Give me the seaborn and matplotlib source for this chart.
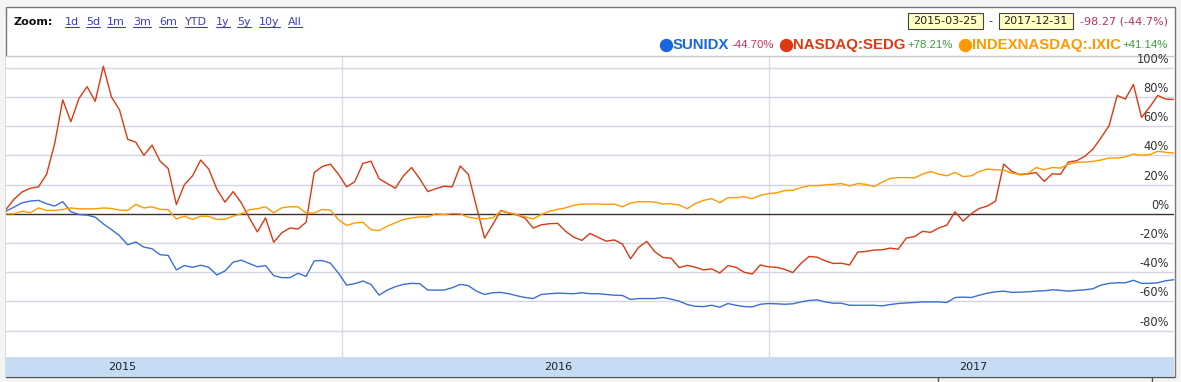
import matplotlib
matplotlib.use("Agg")
import matplotlib.pyplot as plt
import matplotlib.transforms as mtrans
from matplotlib.lines import Line2D
from matplotlib.patches import Rectangle
import numpy as np
import pandas as pd
import seaborn as sns

# weekly % change since start
sunidx = [
    1.8, 4.6, 7.6, 8.7, 9.2, 6.9, 5.3, 8.3, 1.4, -0.5, -0.9, -2.3, -6.9, -10.8, -15, -21.2, -19.3, -22.8, -23.9, -28, -28.5,
    -38.4, -35.4, -36.6, -35.2, -36.6, -41.9, -39.1, -33.1, -31.7, -34, -36.3, -35.4, -42.3, -43.7, -43.7, -40.7, -42.8, -32.2, -32, -33.8,
    -40.7, -48.8, -47.8, -46, -48.3, -55.7, -52.2, -49.9, -48.3, -47.6, -47.8, -52.2, -52.2, -52.2, -50.6, -48.3, -49.2, -52.9, -55.2, -54, -53.8,
    -54.7, -56.1, -57.3, -58, -55.2, -54.7, -54.3, -54.5, -54.7, -54, -54.7, -54.7, -55.2, -55.7, -55.9, -58.6, -58, -58, -58, -57.3, -58.4,
    -59.8, -62.1, -63.3, -63.5, -62.6, -63.9, -61.4, -62.6, -63.5, -63.7, -61.9, -61.4, -61.6, -61.9, -61.6, -60.3, -59.3, -58.9, -60.3, -61.2, -61.2,
    -62.6, -62.6, -62.6, -62.6, -63, -62.1, -61.4, -61, -60.7, -60.3, -60.3, -60.3, -60.7, -57.3, -57, -57.3, -55.7, -54.3, -53.4, -52.9, -53.8,
    -53.6, -53.4, -52.9, -52.7, -52, -52.4, -52.9, -52.4, -52, -51.3, -48.8, -47.6, -47.2, -47.2, -45.5, -47.6, -47.6, -47.2, -45.8, -45.1,
]
sedg = [
    3, 10, 15, 17.5, 18.4, 27, 48, 78, 63, 79, 87, 77, 101, 80, 71, 51, 49, 40, 47, 36, 31,
    6.4, 20, 26, 36.8, 30.6, 16.8, 8, 15.2, 7.6, -2.8, -12.4, -2.8, -19.5, -13, -9.7, -10.4, -5.8, 28.3, 32.4, 34,
    27, 18.4, 22, 34.5, 36, 24, 20.7, 17.5, 26, 31.7, 24, 15.2, 17.2, 18.9, 18.4, 32.7, 27, 5, -16.6, -7.4, 2.3,
    0.5, -0.7, -3, -9.8, -7.5, -6.8, -6.5, -12, -16, -18.2, -13.4, -16.1, -18.7, -17.9, -20.7, -30.8, -22.9, -18.9, -26, -29.9, -30.4,
    -36.8, -35.3, -36.6, -38.4, -37.7, -40.5, -35.5, -36.6, -40, -41.2, -35, -36.3, -36.6, -38, -40.2, -34, -29.2, -29.7, -32.2, -34, -33.8,
    -35, -26.2, -25.8, -24.8, -24.6, -23.5, -24.2, -16.6, -15.6, -12, -12.7, -9.7, -7.8, 1.4, -5, 0, 3.7, 5.3, 8.7, 34, 29,
    26.7, 27.3, 28.2, 22.2, 27.4, 27, 35.5, 36.3, 39.4, 44.2, 52, 60.3, 81, 78.5, 88.5, 66, 73, 81, 78.5, 78.2,
]
ixic = [
    0, 0, 1.8, 0.7, 4, 2.3, 2.3, 3, 4, 3.4, 3.4, 3.4, 4, 3.7, 2.5, 2.3, 6.4, 4, 4.8, 3, 2.8,
    -3.5, -1.6, -3.9, -1.6, -1.8, -3.9, -3.7, -1.6, 0, 2.8, 3.5, 4.8, 0.7, 4.1, 4.8, 4.8, 0.5, 0.5, 3, 2.5,
    -4, -8, -6.2, -5.8, -10.8, -11.5, -8.5, -6.2, -3.9, -2.8, -2.1, -2.1, 0, -0.5, 0.2, 0, -2.3, -3.2, -3.5, -2.8, 1.8,
    0.7, -0.5, -2.1, -3.5, -0.5, 1.8, 3, 4.1, 5.8, 6.7, 6.7, 6.7, 6.4, 6.7, 4.8, 7.4, 8.3, 8.3, 8, 6.7, 6.9,
    6, 3.5, 7.1, 9.2, 10.4, 7.6, 11, 11, 11.7, 10.4, 12.7, 13.8, 14.3, 15.9, 16.1, 17.9, 19.3, 19.3, 19.8, 20.2, 20.7,
    19.1, 20.7, 20.2, 18.6, 21.6, 24.2, 24.8, 24.8, 24.6, 27.1, 29, 27.1, 26, 28.3, 25.5, 26, 29, 30.6, 30.1, 29.9, 27.8,
    27.1, 27.6, 31.7, 30.1, 31.7, 31.3, 34, 35.2, 35.4, 35.9, 36.8, 38.2, 38.2, 38.9, 40.9, 40, 40.5, 42.8, 42.1, 41.6,
]
dates = pd.date_range("2015-03-19", "2017-12-14", periods=len(sedg))

symbols = ["SUNIDX", "NASDAQ:SEDG", "INDEXNASDAQ:.IXIC"]
changes = ["-44.70%", "+78.21%", "+41.14%"]
line_colors = ["#3a70d0", "#dc3912", "#ff9900"]
legend_colors = ["#1a66dd", "#dc3912", "#ff9900"]
change_colors = ["#c4325f", "#3a9d3a", "#3a9d3a"]

y_ticks = [-80, -60, -40, -20, 0, 20, 40, 60, 80, 100]
year_lines = pd.to_datetime(["2016-01-01", "2017-01-01"])
year_names = ["2015", "2016", "2017"]
year_label_at = pd.to_datetime(["2015-06-27", "2016-07-04", "2017-06-25"])

zoom_links = ["1d", "5d", "1m", "3m", "6m", "YTD", "1y", "5y", "10y", "All"]
zoom_link_x = [65, 86, 107, 133, 159, 185, 216, 237, 259, 288]
range_from, range_to = "2015-03-25", "2017-12-31"
range_change = "-98.27 (-44.7%)"

df = pd.DataFrame({
    "date": np.tile(dates, 3),
    "pct": np.concatenate([sunidx, sedg, ixic]),
    "symbol": np.repeat(symbols, len(dates)),
})

sns.set_style("white")
plt.rcParams["font.family"] = "DejaVu Sans"

W, H = 1181, 382


def fx(px):
    return px / W


def fy(py):
    return 1 - py / H


fig = plt.figure(figsize=(W / 100, H / 100), dpi=100, facecolor="#f4f4f4")
fig.patches.append(Rectangle((fx(6), fy(377)), fx(1175) - fx(6), fy(7) - fy(377),
                             transform=fig.transFigure, fc="white", ec="#777777",
                             lw=1, zorder=-5))

ax = fig.add_axes([fx(6), fy(357), fx(1174) - fx(6), fy(56) - fy(357)])
ax.set_facecolor("white")
sns.lineplot(data=df, x="date", y="pct", hue="symbol", hue_order=symbols,
             palette=line_colors, legend=False, linewidth=1.0, ax=ax, zorder=3)
ax.set_xlim(dates[0], dates[-1])
ax.set_ylim(-98, 108)
ax.set_xlabel("")
ax.set_ylabel("")

ax.set_yticks(y_ticks)
ax.set_yticklabels([])
ax.tick_params(axis="y", length=0)
for v in y_ticks:
    if v == 0:
        ax.axhline(0, color="#3c2f2f", lw=1, zorder=2)
    else:
        ax.axhline(v, color="#d5d5e3", lw=1, zorder=1)

lab_tr = mtrans.offset_copy(mtrans.blended_transform_factory(ax.transAxes, ax.transData),
                            fig=fig, y=2, units="dots")
for v in y_ticks:
    ax.text(0.9957, v, f"{v}%", transform=lab_tr, ha="right", va="bottom",
            fontsize=8.3, color="#333333", zorder=6)

ax.set_xticks(year_lines)
ax.set_xticklabels([])
ax.tick_params(axis="x", direction="in", length=5, width=1, color="#333333")
for d in year_lines:
    ax.axvline(d, color="#dcdce8", lw=1, zorder=1)

for side in ["left", "right", "bottom"]:
    ax.spines[side].set_visible(False)
ax.spines["top"].set_color("#c8c8c8")
ax.spines["top"].set_linewidth(1)

# year band
band = fig.add_axes([fx(6), fy(377), fx(1174) - fx(6), fy(357) - fy(377)], sharex=ax)
band.set_facecolor("#c6dcf5")
band.set_yticks([])
band.tick_params(axis="x", length=0, labelbottom=False)
for side in ["left", "right", "top"]:
    band.spines[side].set_visible(False)
band.spines["bottom"].set_color("#555555")
btr = mtrans.blended_transform_factory(band.transData, band.transAxes)
for d, name in zip(year_label_at, year_names):
    band.text(d, 0.5, name, transform=btr, ha="center", va="center",
              fontsize=8, color="#222222")

for px in [938, 1152]:
    fig.add_artist(Line2D([fx(px), fx(px)], [fy(377), fy(382)],
                          transform=fig.transFigure, color="#555555", lw=1))

r = fig.canvas.get_renderer()

# zoom links
fig.text(fx(13), fy(25), "Zoom:", fontsize=8, fontweight="bold", color="#111111",
         ha="left", va="baseline")
for lab, px in zip(zoom_links, zoom_link_x):
    t = fig.text(fx(px), fy(25), lab, fontsize=8, color="#3d3dbb", ha="left", va="baseline")
    bb = t.get_window_extent(renderer=r)
    fig.add_artist(Line2D([bb.x0 / W, bb.x1 / W], [fy(26.5), fy(26.5)],
                          transform=fig.transFigure, color="#3d3dbb", lw=0.8))


def text_right(xr, y, s, **kw):
    t = fig.text(fx(xr), fy(y), s, ha="right", va="center", **kw)
    return t.get_window_extent(renderer=r)


def date_box(xr, y, s):
    bb = text_right(xr - 5, y, s, fontsize=8, color="#222222")
    left = bb.x0 - 5
    fig.patches.append(Rectangle((fx(left), fy(y + 8)), fx(xr) - fx(left), fy(y - 8) - fy(y + 8),
                                 transform=fig.transFigure, fc="#ffffc4", ec="#444444",
                                 lw=0.8, zorder=1))
    return left


# date range row
bb = text_right(1168, 21, range_change, fontsize=8, color="#b5305a")
left = date_box(bb.x0 - 7, 21, range_to)
bb = text_right(left - 6, 21, "-", fontsize=8, color="#222222")
date_box(bb.x0 - 6, 21, range_from)

# legend row
x = 1168
for sym, ch, lc, cc in reversed(list(zip(symbols, changes, legend_colors, change_colors))):
    bb = text_right(x, 45, ch, fontsize=8.2, color=cc, family="Liberation Sans")
    bb = text_right(bb.x0 - 2, 45, sym, fontsize=10.8, fontweight="bold", color=lc,
                    family="Liberation Sans")
    cx = bb.x0 - 1 - 6
    fig.add_artist(Line2D([fx(cx)], [fy(45)], transform=fig.transFigure, marker="o",
                          markersize=8.6, markerfacecolor=lc, markeredgecolor=lc, lw=0))
    x = cx - 6 - 6

fig.savefig("out.png", dpi=100, facecolor=fig.get_facecolor())
